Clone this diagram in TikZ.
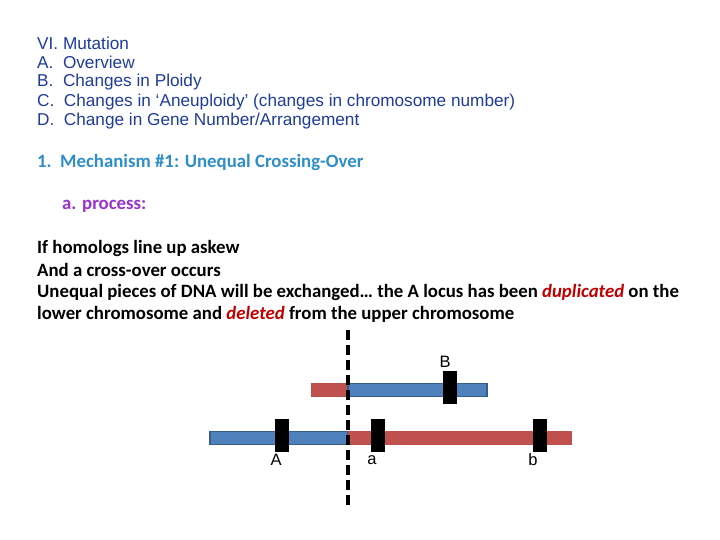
\documentclass[tikz,border=0pt]{standalone}
\usepackage{fontspec}
\setmainfont{Liberation Sans}
\newfontfamily\carfont{Carlito}
\definecolor{hdr}{HTML}{1F3C9C}
\definecolor{cy}{HTML}{2E8FC8}
\definecolor{pu}{HTML}{9933CC}
\definecolor{rd}{HTML}{C0504D}
\definecolor{bl}{HTML}{4F81BD}
\definecolor{bld}{HTML}{385D8A}
\definecolor{dr}{HTML}{C00000}
\begin{document}
\begin{tikzpicture}[x=1pt,y=-1pt,
  ln/.style={anchor=west,inner sep=0pt,font=\fontsize{17.2}{17}\selectfont,text=hdr},
  cl/.style={anchor=west,inner sep=0pt,font=\carfont\bfseries\fontsize{18.8}{18}\selectfont},
  lab/.style={inner sep=0pt,font=\fontsize{16.5}{16}\selectfont}]
\useasboundingbox[fill=white] (0,0) rectangle (720,540);
\node[ln] (t0) at (37,43) {VI. Mutation};
\node[ln] (t1) at (37,62) {A.\ \ Overview};
\node[ln] (t2) at (37,82) {B.\ \ Changes in Ploidy};
\node[ln] (t3) at (37,102) {C.\ \ Changes in ‘Aneuploidy’ (changes in chromosome number)};
\node[ln] (t4) at (37,121) {D.\ \ Change in Gene Number/Arrangement};
\node[cl,text=cy] (m) at (37,162) {1.\ \ Mechanism \#1: Unequal Crossing-Over};
\node[cl,text=pu] (p) at (62,206) {a. process:};
\node[cl] (l1) at (37,248) {If homologs line up askew};
\node[cl] (l2) at (37,270) {And a cross-over occurs};
\node[cl] (l3) at (37,292) {Unequal pieces of DNA will be exchanged… the A locus has been \textcolor{dr}{\itshape duplicated} on the};
\node[cl] (l4) at (37,314) {lower chromosome and \textcolor{dr}{\itshape deleted} from the upper chromosome};
% upper chromosome
\fill[rd] (311,383) rectangle (348,397);
\draw[bld,fill=bl,line width=1.5pt] (348,383.5) rectangle (487,396.5);
\fill[black] (443,371) rectangle (457,404);
% lower chromosome
\draw[bld,fill=bl,line width=1.5pt] (210,431.5) rectangle (348,444.5);
\fill[rd] (348,431) rectangle (572,445);
\fill[black] (275,419) rectangle (289,452);
\fill[black] (371,419) rectangle (385,452);
\fill[black] (533,419) rectangle (547,452);
\draw[line width=3.5pt,dash pattern=on 10pt off 5pt] (348,330) -- (348,505);
\node[lab] (B) at (445,362) {B};
\node[lab] (A) at (276,460) {A};
\node[lab] (a) at (372,460) {a};
\node[lab] (b) at (533,460) {b};
\end{tikzpicture}
\end{document}
